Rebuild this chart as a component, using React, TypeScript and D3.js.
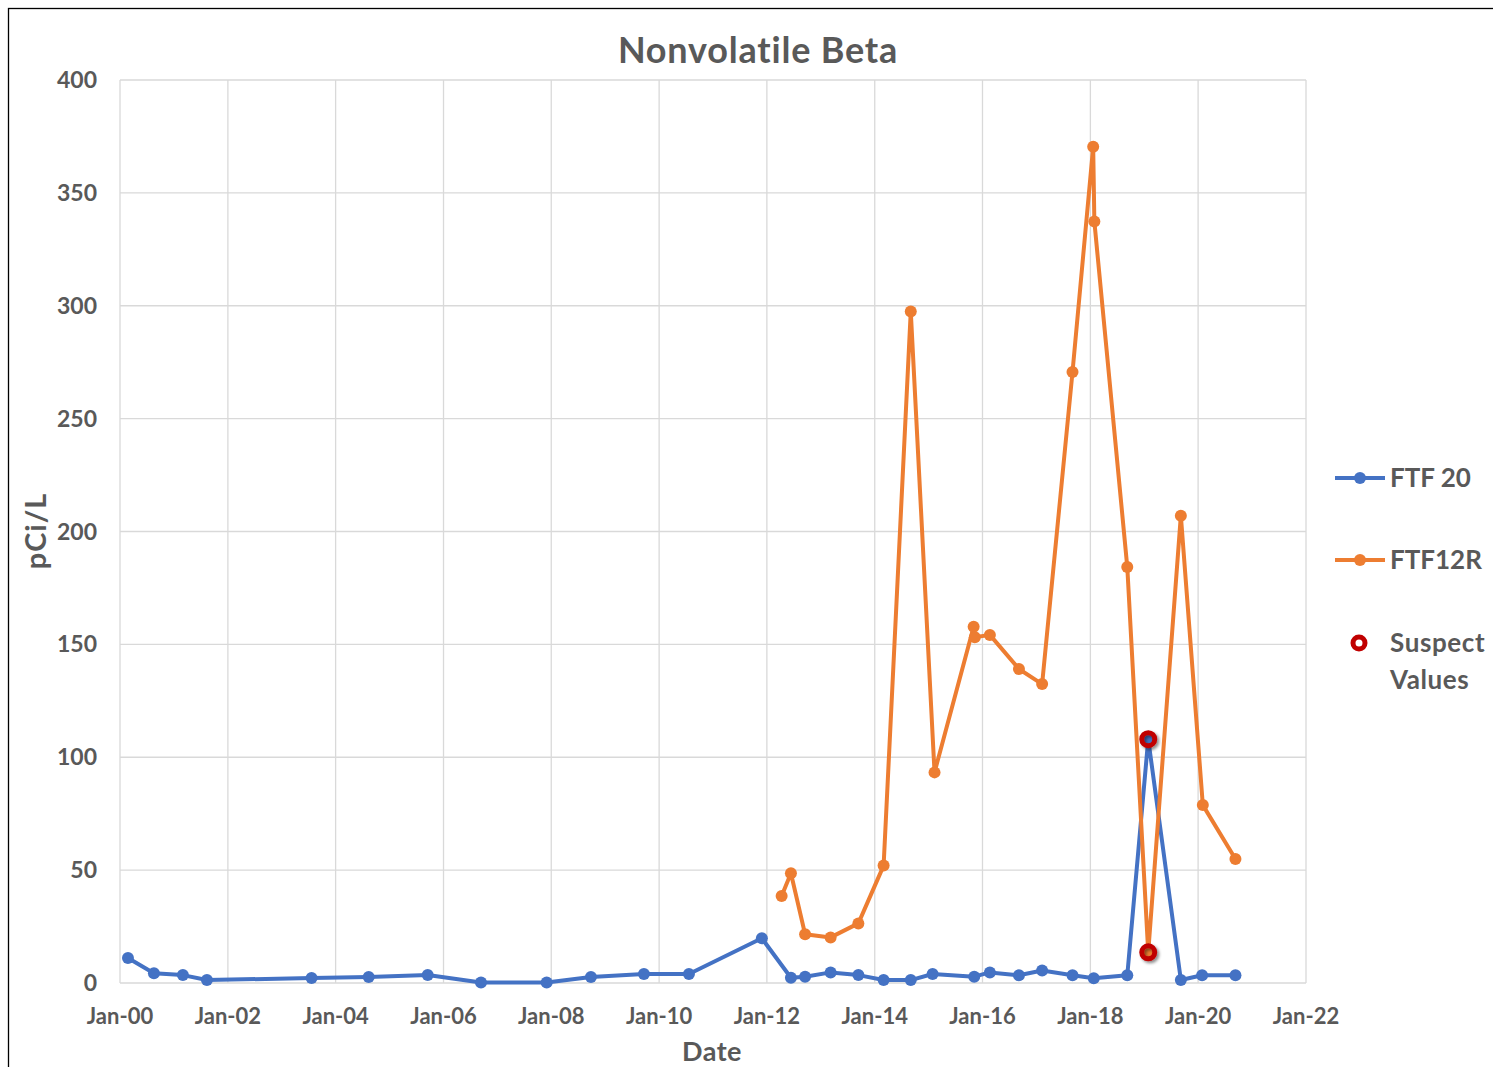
import React, { useEffect, useRef } from 'react';
import * as d3 from 'd3';

// FTF 20 samples
const ftf20Dates = [
  '2000-02-24', '2000-08-18', '2001-03-02', '2001-08-12', '2003-07-22', '2004-08-12',
  '2005-09-16', '2006-09-12', '2007-12-01', '2008-09-26', '2009-09-20', '2010-07-22',
  '2011-11-28', '2012-06-12', '2012-09-16', '2013-03-08', '2013-09-12', '2014-03-02',
  '2014-09-02', '2015-01-28', '2015-11-06', '2016-02-20', '2016-09-04', '2017-02-08',
  '2017-09-02', '2018-01-24', '2018-09-08', '2019-01-28', '2019-09-06', '2020-01-28',
  '2020-09-10',
];
const ftf20Values = [
  11.1, 4.3, 3.5, 1.3, 2.2, 2.7,
  3.5, 0.2, 0.2, 2.7, 4.0, 4.0,
  19.8, 2.3, 2.8, 4.7, 3.5, 1.3,
  1.3, 4.0, 2.8, 4.7, 3.4, 5.5,
  3.4, 2.1, 3.4, 108, 1.3, 3.4,
  3.4,
];

// FTF12R samples
const ftf12rDates = [
  '2012-04-10', '2012-06-12', '2012-09-16', '2013-03-08', '2013-09-12', '2014-03-02',
  '2014-09-02', '2015-02-10', '2015-11-02', '2015-11-10', '2016-02-20', '2016-09-04',
  '2017-02-08', '2017-09-02', '2018-01-20', '2018-01-28', '2018-09-08', '2019-01-28',
  '2019-09-06', '2020-02-02', '2020-09-10',
];
const ftf12rValues = [
  38.5, 48.6, 21.6, 20.2, 26.4, 52,
  297.5, 93.3, 157.8, 153.2, 154.2, 139.1,
  132.4, 270.7, 370.4, 337.3, 184.3, 13.6,
  207, 78.8, 54.9,
];

// values flagged as suspect (series, sample date)
const suspectSeries = ['FTF 20', 'FTF12R'];
const suspectDates = ['2019-01-28', '2019-01-28'];

const yTicks = [0, 50, 100, 150, 200, 250, 300, 350, 400];
const seriesNames = ['FTF 20', 'FTF12R'];
const seriesColors = ['#4472c4', '#ed7d31'];

const W = 1493;
const H = 1067;
const FONT = 'Lato, "Open Sans", sans-serif';
const GREY = '#595959';

const App = () => {
  const svgRef = useRef<SVGSVGElement>(null);

  useEffect(() => {
    const svg = d3.select(svgRef.current);
    svg.selectAll('*').remove();

    const parse = d3.timeParse('%Y-%m-%d');
    const margin = { top: 80, left: 120, right: 187, bottom: 84 };
    const plotW = W - margin.left - margin.right;
    const plotH = H - margin.top - margin.bottom;

    const x = d3.scaleTime()
      .domain([new Date(2000, 0, 1), new Date(2022, 0, 1)])
      .range([margin.left, margin.left + plotW]);
    const y = d3.scaleLinear().domain([0, 400]).range([margin.top + plotH, margin.top]);

    const series = [
      { name: seriesNames[0], color: seriesColors[0], pts: ftf20Dates.map((d, i) => ({ date: parse(d)!, value: ftf20Values[i] })) },
      { name: seriesNames[1], color: seriesColors[1], pts: ftf12rDates.map((d, i) => ({ date: parse(d)!, value: ftf12rValues[i] })) },
    ];

    // shadow for suspect markers
    const defs = svg.append('defs');
    const f = defs.append('filter').attr('id', 'shadow').attr('x', '-50%').attr('y', '-50%').attr('width', '200%').attr('height', '200%');
    f.append('feDropShadow').attr('dx', 2).attr('dy', 2).attr('stdDeviation', 1.8).attr('flood-color', '#000').attr('flood-opacity', 0.45);

    svg.append('rect').attr('width', W).attr('height', H).attr('fill', '#fff');
    // outer chart border
    svg.append('rect')
      .attr('x', 8.5).attr('y', 8.5).attr('width', W + 10).attr('height', H + 10)
      .attr('fill', 'none').attr('stroke', '#000').attr('stroke-width', 1.3);

    // gridlines
    const xTicks = x.ticks(d3.timeYear.every(2)!);
    svg.append('g').selectAll('line').data(xTicks).join('line')
      .attr('x1', (d) => x(d)).attr('x2', (d) => x(d))
      .attr('y1', margin.top).attr('y2', margin.top + plotH)
      .attr('stroke', '#d9d9d9').attr('stroke-width', 1.3);
    svg.append('g').selectAll('line').data(yTicks).join('line')
      .attr('x1', margin.left).attr('x2', margin.left + plotW)
      .attr('y1', (d) => y(d)).attr('y2', (d) => y(d))
      .attr('stroke', '#d9d9d9').attr('stroke-width', 1.3);

    // y axis labels
    svg.append('g').selectAll('text').data(yTicks).join('text')
      .attr('x', 97).attr('y', (d) => y(d)).attr('dy', '0.35em')
      .attr('text-anchor', 'end').attr('font-family', FONT).attr('font-weight', 700)
      .attr('font-size', 23).attr('fill', GREY).text((d) => d);

    // x axis labels
    const fmt = d3.timeFormat('%b-%y');
    svg.append('g').selectAll('text').data(xTicks).join('text')
      .attr('x', (d) => x(d)).attr('y', 1024)
      .attr('text-anchor', 'middle').attr('font-family', FONT).attr('font-weight', 700)
      .attr('font-size', 22).attr('fill', GREY).text((d) => fmt(d));

    // titles
    svg.append('text').attr('x', 758).attr('y', 63).attr('text-anchor', 'middle')
      .attr('font-family', FONT).attr('font-weight', 700).attr('font-size', 36).attr('fill', GREY)
      .attr('letter-spacing', 0.8)
      .text('Nonvolatile Beta');
    svg.append('text').attr('x', 712).attr('y', 1061).attr('text-anchor', 'middle')
      .attr('font-family', FONT).attr('font-weight', 700).attr('font-size', 27).attr('fill', GREY)
      .attr('letter-spacing', 0.5)
      .text('Date');
    svg.append('text').attr('transform', 'translate(46,531) rotate(-90)').attr('text-anchor', 'middle')
      .attr('font-family', FONT).attr('font-weight', 700).attr('font-size', 29).attr('fill', GREY)
      .attr('letter-spacing', 1)
      .text('pCi/L');

    const line = d3.line<{ date: Date; value: number }>()
      .x((d) => x(d.date)).y((d) => y(d.value));

    series.forEach((s) => {
      svg.append('path').datum(s.pts).attr('d', line)
        .attr('fill', 'none').attr('stroke', s.color).attr('stroke-width', 4)
        .attr('stroke-linejoin', 'round');
      svg.append('g').selectAll('circle').data(s.pts).join('circle')
        .attr('cx', (d) => x(d.date)).attr('cy', (d) => y(d.value)).attr('r', 6)
        .attr('fill', s.color);
    });

    // suspect markers
    const suspects = suspectSeries.map((name, i) => {
      const s = series.find((v) => v.name === name)!;
      const dt = parse(suspectDates[i])!;
      return s.pts.find((p) => +p.date === +dt)!;
    });
    svg.append('g').selectAll('circle').data(suspects).join('circle')
      .attr('cx', (d) => x(d.date)).attr('cy', (d) => y(d.value)).attr('r', 6.5)
      .attr('fill', 'none').attr('stroke', '#c00000').attr('stroke-width', 5)
      .attr('filter', 'url(#shadow)');

    // legend
    const lg = svg.append('g');
    series.forEach((s, i) => {
      const ly = 478 + i * 82;
      lg.append('line').attr('x1', 1335).attr('x2', 1385).attr('y1', ly).attr('y2', ly)
        .attr('stroke', s.color).attr('stroke-width', 4);
      lg.append('circle').attr('cx', 1360).attr('cy', ly).attr('r', 6).attr('fill', s.color);
      lg.append('text').attr('x', 1390).attr('y', ly).attr('dy', '0.35em')
        .attr('font-family', FONT).attr('font-weight', 700).attr('font-size', 26).attr('fill', GREY)
        .text(s.name);
    });
    lg.append('circle').attr('cx', 1359).attr('cy', 643).attr('r', 6)
      .attr('fill', '#fff').attr('stroke', '#c00000').attr('stroke-width', 5);
    lg.append('text').attr('x', 1390).attr('y', 643).attr('dy', '0.35em')
      .attr('font-family', FONT).attr('font-weight', 700).attr('font-size', 26).attr('fill', GREY)
      .attr('letter-spacing', 0.6)
      .text('Suspect');
    lg.append('text').attr('x', 1390).attr('y', 680).attr('dy', '0.35em')
      .attr('font-family', FONT).attr('font-weight', 700).attr('font-size', 26).attr('fill', GREY)
      .attr('letter-spacing', 0.6)
      .text('Values');
  }, []);

  return (
    <svg ref={svgRef} width={W} height={H} style={{ position: 'absolute', left: 0, top: 0 }} />
  );
};

export default App;
